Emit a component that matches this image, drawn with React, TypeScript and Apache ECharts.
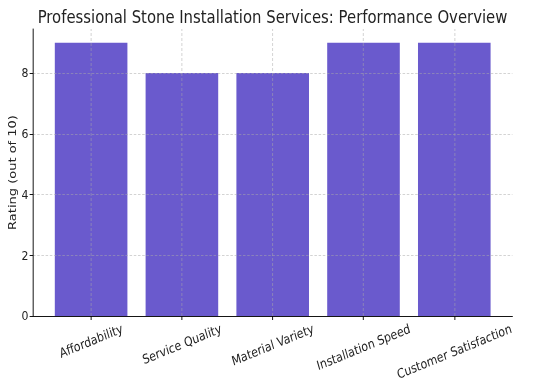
import React, { useEffect, useRef } from "react";
import * as echarts from "echarts";

const categories = [
  "Affordability",
  "Service Quality",
  "Material Variety",
  "Installation Speed",
  "Customer Satisfaction",
];
const ratings = [9, 8, 8, 9, 9];
const yTicks = [0, 2, 4, 6, 8];
const yMax = 9.45;
const xMin = -0.64;
const xMax = 4.64;

// the reference is horizontally squeezed; draw wider and compress with CSS
const S = 0.84;
const W = 533;
const H = 387;
const px = (v: number) => v / S;

const FONT = "DejaVu Sans";
const LABEL_SIZE = 13;
const ROT = 19;

function measure(text: string, size: number): number {
  const c = document.createElement("canvas");
  const ctx = c.getContext("2d");
  if (!ctx) return text.length * size * 0.6;
  ctx.font = `${size}px "${FONT}"`;
  return ctx.measureText(text).width;
}

export default function App() {
  const ref = useRef<HTMLDivElement>(null);
  useEffect(() => {
    if (!ref.current) return;
    const chart = echarts.init(ref.current, null, { renderer: "svg" });
    const rad = (ROT * Math.PI) / 180;
    const w0 = measure(categories[0], LABEL_SIZE);
    const rich: Record<string, any> = {};
    categories.forEach((c, i) => {
      const dy = ((measure(c, LABEL_SIZE) - w0) * Math.sin(rad)) / 2;
      const d = dy * Math.cos(rad);
      const e = dy * Math.sin(rad);
      rich["l" + i] = {
        fontSize: LABEL_SIZE,
        fontFamily: FONT,
        color: "#222",
        padding: [2 * d, 2 * e, 0, 0],
      };
    });
    const gridStyle = {
      color: "rgba(170,170,170,0.7)",
      width: 0.8,
      type: [3, 2] as any,
    };
    chart.setOption({
      animation: false,
      title: {
        text: "Professional Stone Installation Services: Performance Overview",
        left: px(272.5),
        top: 8.5,
        padding: 0,
        textAlign: "center",
        textStyle: {
          fontFamily: FONT,
          fontSize: 17.7,
          fontWeight: "normal",
          color: "#222",
        },
      },
      grid: {
        left: px(33),
        right: px(21),
        top: 29,
        bottom: 71,
        containLabel: false,
        outerBoundsMode: "none",
      },
      xAxis: {
        type: "value",
        min: xMin,
        max: xMax,
        z: 5,
        axisLine: {
          show: true,
          onZero: false,
          lineStyle: { color: "#000", width: 1 },
        },
        axisTick: {
          show: true,
          length: 4,
          customValues: categories.map((_, i) => i),
          lineStyle: { color: "#000" },
        },
        splitLine: { show: false },
        axisLabel: {
          customValues: categories.map((_, i) => i),
          rotate: ROT,
          align: "center",
          verticalAlign: "middle",
          margin: 25,
          formatter: (v: number) => {
            const i = Math.round(v);
            return `{l${i}|${categories[i]}}`;
          },
          rich,
        },
      },
      yAxis: {
        type: "value",
        min: 0,
        max: yMax,
        z: 5,
        name: "Rating (out of 10)",
        nameLocation: "middle",
        nameGap: 18.5,
        nameMoveOverlap: false,
        nameTextStyle: { fontFamily: FONT, fontSize: 13, color: "#222" },
        axisLine: {
          show: true,
          onZero: false,
          lineStyle: { color: "#000", width: 1 },
        },
        axisTick: {
          show: true,
          length: 4,
          customValues: yTicks,
          lineStyle: { color: "#000" },
        },
        splitLine: { show: false },
        axisLabel: {
          customValues: yTicks,
          margin: 5.5,
          fontFamily: FONT,
          fontSize: LABEL_SIZE,
          color: "#222",
        },
      },
      series: [
        {
          type: "bar",
          data: ratings.map((v, i) => [i, v]),
          barWidth: px(72.6),
          itemStyle: { color: "#6A5ACD" },
          markLine: {
            silent: true,
            symbol: "none",
            label: { show: false },
            lineStyle: gridStyle,
            data: [
              ...categories.map((_, i) => ({ xAxis: i })),
              ...yTicks.filter((t) => t > 0).map((t) => ({ yAxis: t })),
            ],
          },
        },
      ],
    });
    return () => chart.dispose();
  }, []);
  return (
    <div
      ref={ref}
      style={{
        position: "fixed",
        left: 0,
        top: 0,
        width: px(W),
        height: H,
        transform: `scaleX(${S})`,
        transformOrigin: "0 0",
      }}
    />
  );
}
